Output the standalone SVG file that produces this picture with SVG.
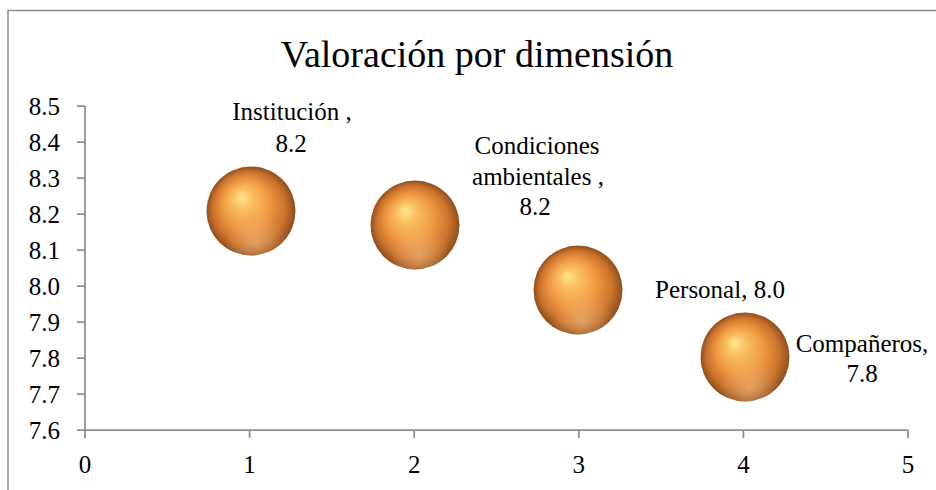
<svg xmlns="http://www.w3.org/2000/svg" width="936" height="490" viewBox="0 0 936 490">
<style>
text{font-family:"Liberation Serif","Times New Roman",serif;fill:#000}
.title{font-size:38px;text-anchor:middle}
.ax{font-size:25px}
.yl{text-anchor:end}
.xl{text-anchor:middle}
.lbl{font-size:25px;text-anchor:middle}
.axis{stroke:#8e8e8e;stroke-width:1.75;fill:none}
</style>
<defs>
<radialGradient id="sphere" cx="0.5" cy="0.5" r="0.5" fx="0.38" fy="0.33">
<stop offset="0" stop-color="#FFE88F"/>
<stop offset="0.22" stop-color="#FBBF63"/>
<stop offset="0.55" stop-color="#EE9640"/>
<stop offset="0.82" stop-color="#C9722B"/>
<stop offset="1" stop-color="#8E4E1E"/>
</radialGradient>
<radialGradient id="refl" cx="0.55" cy="0.85" r="0.35">
<stop offset="0" stop-color="#F7C08A" stop-opacity="0.55"/>
<stop offset="1" stop-color="#F7C08A" stop-opacity="0"/>
</radialGradient>
</defs>
<rect x="8" y="10.5" width="940" height="500" fill="#fff" stroke="#8c8c8c" stroke-width="1.5"/>
<text class="title" x="477" y="67">Valoración por dimensión</text>
<g id="axes">
<path class="axis" d="M85 106V430H908M77 106H85M77 142H85M77 178H85M77 214H85M77 250H85M77 286H85M77 322H85M77 358H85M77 394H85M77 430H85M85 430V438M249.6 430V438M414.2 430V438M578.8 430V438M743.4 430V438M908 430V438"/>
<g class="ax yl">
<text x="60" y="115">8.5</text>
<text x="60" y="151">8.4</text>
<text x="60" y="187">8.3</text>
<text x="60" y="223">8.2</text>
<text x="60" y="259">8.1</text>
<text x="60" y="295">8.0</text>
<text x="60" y="331">7.9</text>
<text x="60" y="367">7.8</text>
<text x="60" y="403">7.7</text>
<text x="60" y="439">7.6</text>
</g>
<g class="ax xl">
<text x="85" y="473">0</text>
<text x="249.6" y="473">1</text>
<text x="414.2" y="473">2</text>
<text x="578.8" y="473">3</text>
<text x="743.4" y="473">4</text>
<text x="908" y="473">5</text>
</g>
</g>
<g id="connectors"></g>
<g id="institucion">
<circle cx="251" cy="211" r="44.5" fill="url(#sphere)"/>
<circle cx="251" cy="211" r="44.5" fill="url(#refl)"/>
<text class="lbl" x="292" y="120">Institución ,</text>
<text class="lbl" x="291" y="152">8.2</text>
</g>
<g id="condiciones">
<circle cx="415" cy="225" r="44.5" fill="url(#sphere)"/>
<circle cx="415" cy="225" r="44.5" fill="url(#refl)"/>
<text class="lbl" x="537" y="154">Condiciones</text>
<text class="lbl" x="538" y="185">ambientales ,</text>
<text class="lbl" x="535" y="215">8.2</text>
</g>
<g id="personal">
<circle cx="578" cy="290" r="44.5" fill="url(#sphere)"/>
<circle cx="578" cy="290" r="44.5" fill="url(#refl)"/>
<text class="lbl" x="720" y="298">Personal, 8.0</text>
</g>
<g id="companeros">
<circle cx="745" cy="357" r="44.5" fill="url(#sphere)"/>
<circle cx="745" cy="357" r="44.5" fill="url(#refl)"/>
<text class="lbl" x="862" y="352">Compañeros,</text>
<text class="lbl" x="862" y="382">7.8</text>
</g>
</svg>
